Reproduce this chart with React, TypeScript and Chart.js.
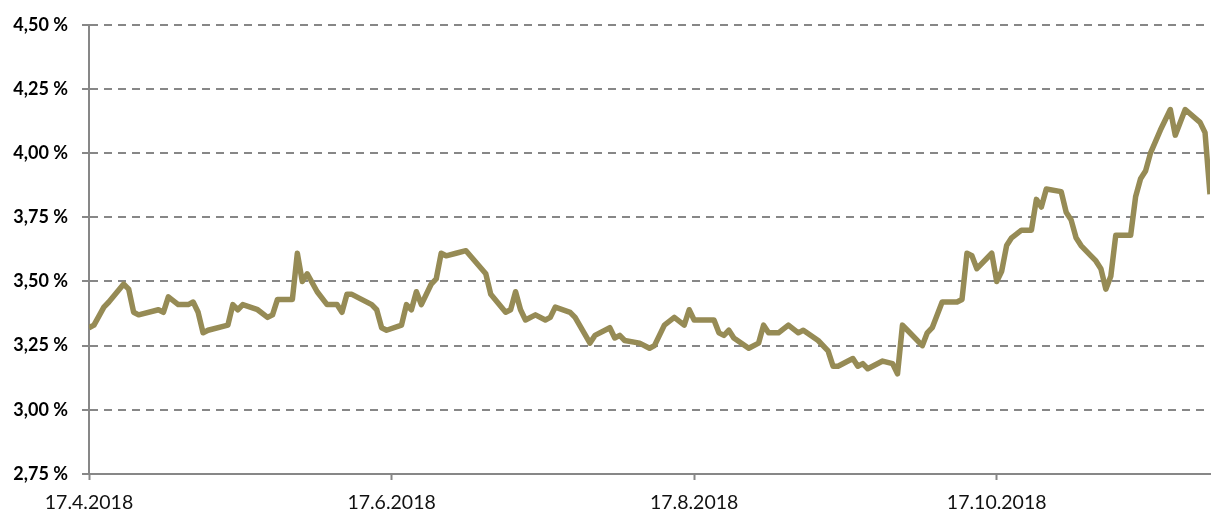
import React, { useEffect, useRef } from "react";
import { Chart, registerables } from "chart.js";

Chart.register(...registerables);

// Dates (d.m.yyyy) of the visible turning points of the yield line
const dates: string[] = [
  "17.4.2018", "18.4.2018", "20.4.2018", "21.4.2018", "24.4.2018", "25.4.2018", "26.4.2018", "27.4.2018",
  "1.5.2018", "2.5.2018", "3.5.2018", "5.5.2018", "7.5.2018", "8.5.2018", "9.5.2018", "10.5.2018", "11.5.2018",
  "15.5.2018", "16.5.2018", "17.5.2018", "18.5.2018", "21.5.2018", "23.5.2018", "24.5.2018", "25.5.2018",
  "28.5.2018", "29.5.2018", "30.5.2018", "31.5.2018",
  "2.6.2018", "4.6.2018", "6.6.2018", "7.6.2018", "8.6.2018", "9.6.2018", "13.6.2018", "14.6.2018", "15.6.2018",
  "16.6.2018", "19.6.2018", "20.6.2018", "21.6.2018", "22.6.2018", "23.6.2018", "25.6.2018", "26.6.2018",
  "27.6.2018", "28.6.2018", "30.6.2018",
  "2.7.2018", "6.7.2018", "7.7.2018", "10.7.2018", "11.7.2018", "12.7.2018", "13.7.2018", "14.7.2018",
  "16.7.2018", "18.7.2018", "19.7.2018", "20.7.2018", "23.7.2018", "24.7.2018", "27.7.2018", "28.7.2018",
  "31.7.2018",
  "1.8.2018", "2.8.2018", "3.8.2018", "6.8.2018", "8.8.2018", "9.8.2018", "11.8.2018", "13.8.2018",
  "15.8.2018", "16.8.2018", "17.8.2018", "21.8.2018", "22.8.2018", "23.8.2018", "24.8.2018", "25.8.2018",
  "28.8.2018", "30.8.2018", "31.8.2018",
  "1.9.2018", "3.9.2018", "5.9.2018", "7.9.2018", "8.9.2018", "11.9.2018", "13.9.2018", "14.9.2018",
  "15.9.2018", "18.9.2018", "19.9.2018", "20.9.2018", "21.9.2018", "24.9.2018", "26.9.2018", "27.9.2018",
  "28.9.2018", "29.9.2018",
  "2.10.2018", "3.10.2018", "4.10.2018", "6.10.2018", "9.10.2018", "10.10.2018", "11.10.2018", "12.10.2018",
  "13.10.2018", "16.10.2018", "17.10.2018", "18.10.2018", "19.10.2018", "20.10.2018", "22.10.2018",
  "24.10.2018", "25.10.2018", "26.10.2018", "27.10.2018", "30.10.2018", "31.10.2018",
  "1.11.2018", "2.11.2018", "3.11.2018", "5.11.2018", "6.11.2018", "7.11.2018", "8.11.2018", "9.11.2018",
  "10.11.2018", "13.11.2018", "14.11.2018", "15.11.2018", "16.11.2018", "17.11.2018", "19.11.2018",
  "21.11.2018", "22.11.2018", "24.11.2018", "27.11.2018", "28.11.2018", "29.11.2018",
];

// Yield in percent
const yields: number[] = [
  3.32, 3.33, 3.40, 3.42, 3.49, 3.47, 3.38, 3.37,
  3.39, 3.38, 3.44, 3.41, 3.41, 3.42, 3.38, 3.30, 3.31,
  3.33, 3.41, 3.39, 3.41, 3.39, 3.36, 3.37, 3.43,
  3.43, 3.61, 3.50, 3.53,
  3.46, 3.41, 3.41, 3.38, 3.45, 3.45, 3.41, 3.39, 3.32,
  3.31, 3.33, 3.41, 3.39, 3.46, 3.41, 3.49, 3.51,
  3.61, 3.60, 3.61,
  3.62, 3.53, 3.45, 3.38, 3.39, 3.46, 3.39, 3.35,
  3.37, 3.35, 3.36, 3.40, 3.38, 3.36, 3.26, 3.29,
  3.32,
  3.28, 3.29, 3.27, 3.26, 3.24, 3.25, 3.33, 3.36,
  3.33, 3.39, 3.35, 3.35, 3.30, 3.29, 3.31, 3.28,
  3.24, 3.26, 3.33,
  3.30, 3.30, 3.33, 3.30, 3.31, 3.27, 3.23, 3.17,
  3.17, 3.20, 3.17, 3.18, 3.16, 3.19, 3.18, 3.14,
  3.33, 3.31,
  3.25, 3.30, 3.32, 3.42, 3.42, 3.43, 3.61, 3.60,
  3.55, 3.61, 3.50, 3.54, 3.64, 3.67, 3.70,
  3.70, 3.82, 3.79, 3.86, 3.85, 3.77,
  3.74, 3.67, 3.64, 3.60, 3.58, 3.55, 3.47, 3.52,
  3.68, 3.68, 3.83, 3.90, 3.93, 4.00, 4.09,
  4.17, 4.07, 4.17, 4.12, 4.08, 3.84,
];

const xTickLabels: string[] = ["17.4.2018", "17.6.2018", "17.8.2018", "17.10.2018"];
const yMin = 2.75;
const yMax = 4.5;
const yStep = 0.25;

const START = "17.4.2018";

function dayIndex(s: string): number {
  const [d, m, y] = s.split(".").map(Number);
  const [d0, m0, y0] = START.split(".").map(Number);
  return Math.round((Date.UTC(y, m - 1, d) - Date.UTC(y0, m0 - 1, d0)) / 86400000);
}

export default function App() {
  const canvasRef = useRef<HTMLCanvasElement | null>(null);

  useEffect(() => {
    document.body.style.margin = "0";
    const canvas = canvasRef.current;
    if (!canvas) return;

    const points = dates.map((d, i) => ({ x: dayIndex(d), y: yields[i] }));
    const tickValues = xTickLabels.map(dayIndex);
    const gray = "#878787";

    const chart = new Chart(canvas, {
      type: "line",
      data: {
        datasets: [
          {
            data: points,
            borderColor: "#968B55",
            backgroundColor: "#968B55",
            borderWidth: 5.5,
            pointRadius: 0,
            tension: 0,
            borderJoinStyle: "round",
            borderCapStyle: "butt",
          },
        ],
      },
      options: {
        responsive: false,
        animation: false,
        layout: { padding: { top: 24, right: 1, left: 0, bottom: 0 } },
        plugins: {
          legend: { display: false },
          tooltip: { enabled: false },
        },
        scales: {
          x: {
            type: "linear",
            min: 0,
            max: dayIndex(dates[dates.length - 1]),
            afterBuildTicks: (axis: any) => {
              axis.ticks = tickValues.map((v) => ({ value: v }));
            },
            afterFit: (axis: any) => {
              axis.height = 37;
            },
            grid: {
              display: true,
              drawOnChartArea: false,
              drawTicks: true,
              tickLength: 6,
              tickColor: gray,
              tickWidth: 2,
            },
            border: { display: true, color: gray, width: 2 },
            ticks: {
              autoSkip: false,
              maxRotation: 0,
              minRotation: 0,
              padding: 11,
              color: "#111",
              font: { family: "Lato", size: 19.5, weight: "normal" },
              callback: (value: any) => {
                const idx = tickValues.indexOf(Number(value));
                return idx >= 0 ? xTickLabels[idx] : "";
              },
            },
          },
          y: {
            min: yMin,
            max: yMax,
            afterFit: (axis: any) => {
              axis.width = 89;
            },
            grid: {
              color: gray,
              lineWidth: 2,
              drawTicks: true,
              tickLength: 7,
              tickColor: gray,
              tickWidth: 2,
            },
            border: { display: true, color: gray, width: 2, dash: [8, 6] },
            ticks: {
              stepSize: yStep,
              padding: 14,
              color: "#000",
              font: { family: "Lato", size: 18, weight: "bold" },
              callback: (value: any) => Number(value).toFixed(2).replace(".", ",") + " %",
            },
          },
        },
      },
    });

    return () => chart.destroy();
  }, []);

  return (
    <div style={{ width: 1211, height: 511 }}>
      <canvas ref={canvasRef} width={1211} height={511} style={{ display: "block" }} />
    </div>
  );
}
